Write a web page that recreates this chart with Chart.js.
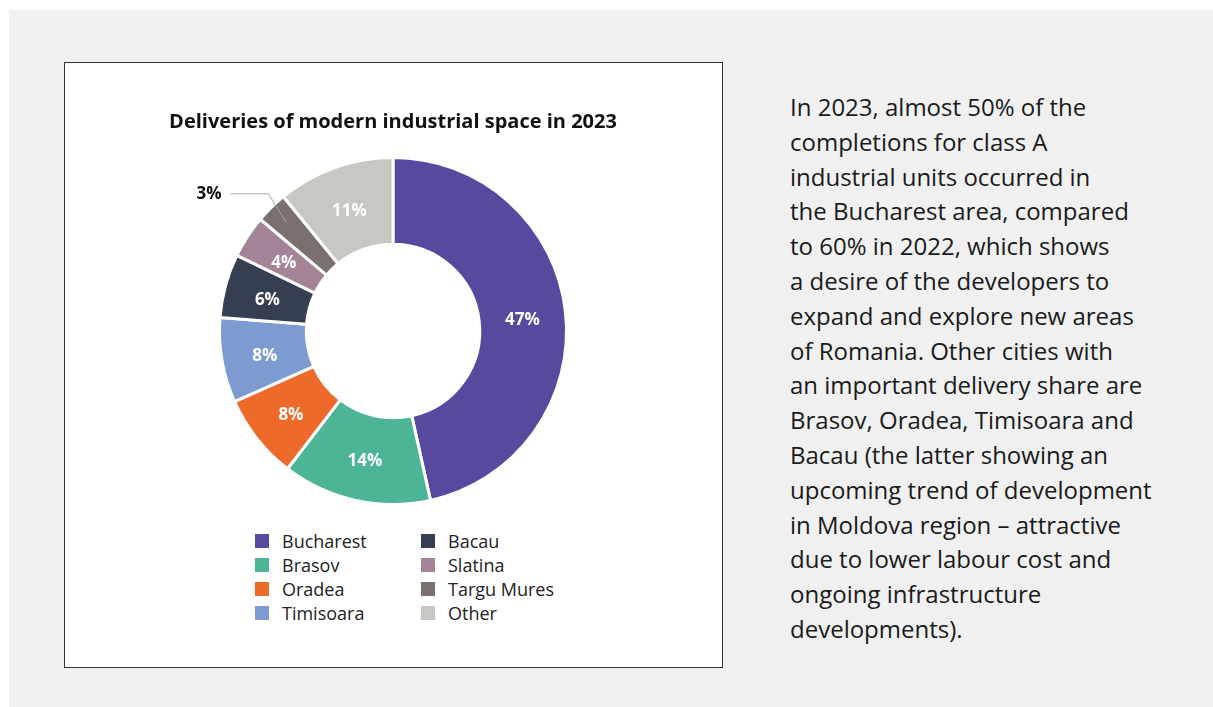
<!DOCTYPE html>
<html>
<head>
<meta charset="utf-8">
<script src="https://cdn.jsdelivr.net/npm/chart.js@4.4.1/dist/chart.umd.min.js"></script>
<style>
    html, body { margin: 0; padding: 0; background: #fff; }
    body { width: 1213px; height: 707px; position: relative; overflow: hidden; font-family: "Open Sans", sans-serif; }
    .panel { position: absolute; left: 9px; top: 10px; right: 0; bottom: 0; background: #f0f0f0; }
    .card { position: absolute; left: 64px; top: 62px; width: 657px; height: 604px; border: 1px solid #333; background: #fff; }
    .chart-wrap { position: absolute; left: 68px; top: 32px; width: 520px; height: 411px; }
    .legend { position: absolute; left: 190px; top: 466px; display: grid; grid-template-columns: 166px 166px; grid-auto-flow: column; grid-template-rows: repeat(4, 24px); }
    .legend-item { display: flex; align-items: center; font-size: 18px; color: #222; white-space: nowrap; }
    .legend-box { width: 14px; height: 14px; margin-right: 13px; flex: none; }
    .note { position: absolute; left: 790px; top: 90px; font-size: 24px; line-height: 34.8px; color: #1a1a1a; white-space: nowrap; }
</style>
</head>
<body>
<div class="panel"></div>
<div class="card">
    <div class="chart-wrap"><canvas id="deliveriesChart"></canvas></div>
    <div class="legend" id="deliveriesLegend"></div>
</div>
<div class="note">
    In 2023, almost 50% of the<br>
    completions for class A<br>
    industrial units occurred in<br>
    the Bucharest area, compared<br>
    to 60% in 2022, which shows<br>
    a desire of the developers to<br>
    expand and explore new areas<br>
    of Romania. Other cities with<br>
    an important delivery share are<br>
    Brasov, Oradea, Timisoara and<br>
    Bacau (the latter showing an<br>
    upcoming trend of development<br>
    in Moldova region – attractive<br>
    due to lower labour cost and<br>
    ongoing infrastructure<br>
    developments).
</div>

<script>
// ============ DELIVERIES 2023 (Doughnut) ============
const CITIES = ['Bucharest', 'Brasov', 'Oradea', 'Timisoara', 'Bacau', 'Slatina', 'Targu Mures', 'Other'];
const SHARES = [47, 14, 8, 8, 6, 4, 3, 11];
const COLORS = ['#574a9e', '#4db597', '#ee6a2b', '#7d9bd0', '#363f52', '#a48396', '#7a706e', '#c8c8c2'];

// Slices this small get their label outside with a leader line
const OUTSIDE_MAX = 3;

const sliceLabels = {
    id: 'sliceLabels',
    afterDatasetsDraw(chart) {
        const ctx = chart.ctx;
        const meta = chart.getDatasetMeta(0);
        ctx.save();
        ctx.font = 'bold 17px "Open Sans"';
        ctx.textBaseline = 'middle';
        meta.data.forEach((arc, i) => {
            const v = SHARES[i];
            const text = `${v}%`;
            if (v > OUTSIDE_MAX) {
                const p = arc.getCenterPoint();
                ctx.fillStyle = '#fff';
                ctx.textAlign = 'center';
                ctx.fillText(text, p.x, p.y + 3);
                return;
            }
            // leader line: from inside the slice, up-left to an elbow, then flat
            const { x, y, startAngle, endAngle, innerRadius, outerRadius } = arc.getProps(['x', 'y', 'startAngle', 'endAngle', 'innerRadius', 'outerRadius']);
            const mid = (startAngle + endAngle) / 2;
            const r = innerRadius + (outerRadius - innerRadius) * 0.75;
            const sx = x + Math.cos(mid) * r;
            const sy = y + Math.sin(mid) * r;
            const ex = sx - 18, ey = sy - 29;
            const lx = ex - 38;
            ctx.strokeStyle = '#a6a6a6';
            ctx.lineWidth = 1;
            ctx.beginPath();
            ctx.moveTo(sx, sy);
            ctx.lineTo(ex, ey);
            ctx.lineTo(lx, ey);
            ctx.stroke();
            ctx.fillStyle = '#111';
            ctx.textAlign = 'right';
            ctx.fillText(text, lx - 9, ey);
        });
        ctx.restore();
    }
};

const chart = new Chart(document.getElementById('deliveriesChart'), {
    type: 'doughnut',
    data: {
        labels: CITIES,
        datasets: [{
            data: SHARES,
            backgroundColor: COLORS,
            borderColor: '#fff',
            borderWidth: 3,
            hoverOffset: 0
        }]
    },
    options: {
        responsive: true,
        maintainAspectRatio: false,
        animation: false,
        cutout: '50%',
        plugins: {
            legend: { display: false },
            tooltip: { enabled: false },
            title: {
                display: true,
                text: 'Deliveries of modern industrial space in 2023',
                color: '#111',
                font: { family: '"Open Sans"', size: 20, weight: 'bold', lineHeight: 1.2 },
                padding: { top: 15, bottom: 22 }
            }
        }
    },
    plugins: [sliceLabels]
});

// Legend in two columns, filled top to bottom
const legendEl = document.getElementById('deliveriesLegend');
chart.data.labels.forEach((name, i) => {
    const item = document.createElement('div');
    item.className = 'legend-item';
    const box = document.createElement('span');
    box.className = 'legend-box';
    box.style.background = chart.data.datasets[0].backgroundColor[i];
    item.appendChild(box);
    item.appendChild(document.createTextNode(name));
    legendEl.appendChild(item);
});
</script>
</body>
</html>
